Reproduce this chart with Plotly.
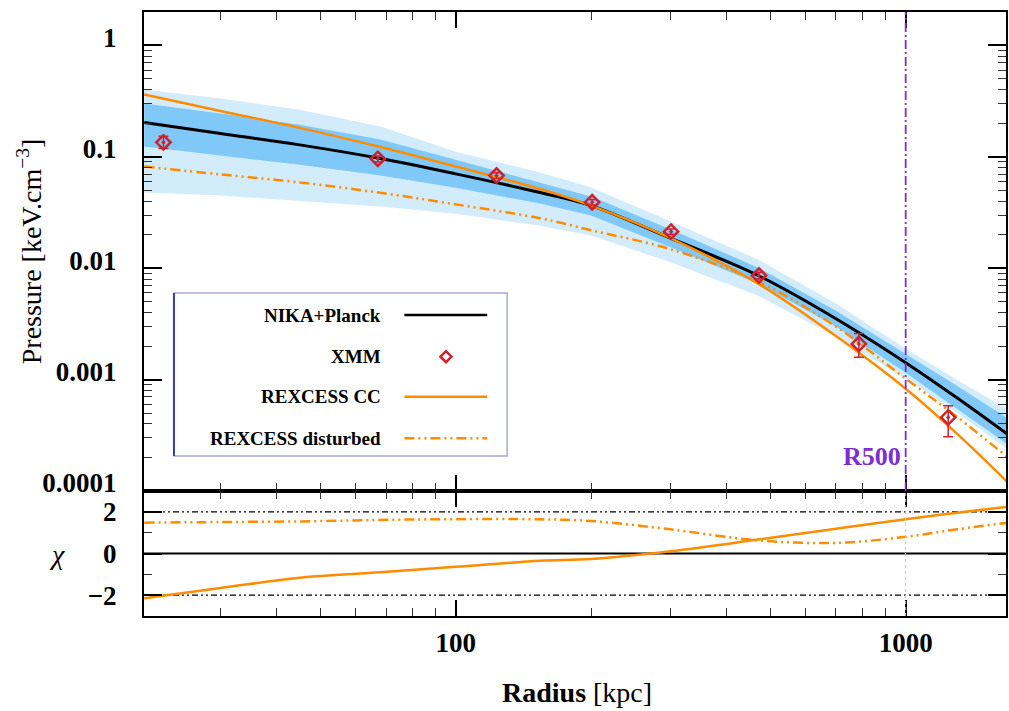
import math
import plotly.graph_objects as go
from plotly.subplots import make_subplots

# ---------------- data ----------------
r_model = [20.3, 30, 45, 68, 100, 154, 200, 300, 470, 700, 1000, 1300, 1690]
p_nika = [0.203, 0.162, 0.128, 0.0966, 0.0703, 0.0478, 0.0365, 0.0186, 0.0086, 0.00352, 0.00142, 0.000687, 0.00032]
p_1sig_hi = [0.301, 0.245, 0.194, 0.143, 0.0940, 0.0587, 0.0440, 0.0224, 0.01012, 0.00416, 0.00171, 0.000881, 0.000445]
p_1sig_lo = [0.1238, 0.1027, 0.0848, 0.0679, 0.0527, 0.0381, 0.0297, 0.01544, 0.00727, 0.00299, 0.001153, 0.000548, 0.000260]
p_2sig_hi = [0.4025, 0.334, 0.2645, 0.1872, 0.1109, 0.0723, 0.0530, 0.02644, 0.01195, 0.00481, 0.001895, 0.000998, 0.000537]
p_2sig_lo = [0.0478, 0.0449, 0.0402, 0.0358, 0.0308, 0.0241, 0.01963, 0.01132, 0.00567, 0.00243, 0.001019, 0.000504, 0.000235]
p_rexcess_cc = [0.3628, 0.2579, 0.1818, 0.1223, 0.0818, 0.0514, 0.0365, 0.01864, 0.00727, 0.00246, 0.000828, 0.000327, 0.0001185]
p_rexcess_dist = [0.0818, 0.0695, 0.0589, 0.0475, 0.0374, 0.0281, 0.0219, 0.01482, 0.00758, 0.00299, 0.001019, 0.000464, 0.000199]

chi_cc = [-2.15, -1.66, -1.16, -0.90, -0.64, -0.35, -0.26, 0.11, 0.67, 1.19, 1.64, 1.96, 2.25]
chi_dist = [1.48, 1.51, 1.54, 1.61, 1.65, 1.64, 1.56, 1.16, 0.63, 0.51, 0.80, 1.16, 1.48]

r_xmm = [22.4, 67.1, 123.2, 201, 301, 472, 787, 1243]
p_xmm = [0.135, 0.0959, 0.0679, 0.0391, 0.0213, 0.0086, 0.00209, 0.000458]
err_xmm_up = [0.018, 0.006, 0.004, 0.0022, 0.0012, 0.0006, 0.0005, 0.000125]
err_xmm_dn = [0.016, 0.006, 0.004, 0.0022, 0.0012, 0.0006, 0.0005, 0.000151]

R500 = 1000

y_tickvals = [1e-4, 1e-3, 1e-2, 1e-1, 1]
y_ticktext = ["0.0001", "0.001", "0.01", "0.1", "1"]
x_tickvals = [100, 1000]
x_ticktext = ["100", "1000"]
x_minor = [20, 30, 40, 50, 60, 70, 80, 90, 200, 300, 400, 500, 600, 700, 800, 900]
y_minor = [m * 10.0 ** e for e in range(-4, 0) for m in range(2, 10)]
chi_tickvals = [-2, 0, 2]
chi_ticktext = ["\u22122", "0", "2"]

legend_labels = ["NIKA+Planck", "XMM", "REXCESS CC", "REXCESS disturbed"]

# ---------------- styles ----------------
C_LIGHT = "#d3ecfc"
C_DARK = "#80c8f8"
C_ORANGE = "#ff8c00"
C_RED = "#d0202c"
C_PURPLE = "#7a2fd2"
SERIF = "Liberation Serif, Times New Roman, serif"
DASH_DDOT = "10px,4px,2px,4px,2px,4px"


def bold(lst):
    return ["<b>%s</b>" % t for t in lst]


fig = make_subplots(rows=2, cols=1, shared_xaxes=True, vertical_spacing=0,
                    row_heights=[479 / 604, 125 / 604])

# bands
fig.add_trace(go.Scatter(x=r_model, y=p_2sig_hi, mode="lines", line=dict(width=0, color=C_LIGHT),
                         showlegend=False, hoverinfo="skip"), row=1, col=1)
fig.add_trace(go.Scatter(x=r_model, y=p_2sig_lo, mode="lines", line=dict(width=0, color=C_LIGHT),
                         fill="tonexty", fillcolor=C_LIGHT, showlegend=False, hoverinfo="skip"), row=1, col=1)
fig.add_trace(go.Scatter(x=r_model, y=p_1sig_hi, mode="lines", line=dict(width=0, color=C_DARK),
                         showlegend=False, hoverinfo="skip"), row=1, col=1)
fig.add_trace(go.Scatter(x=r_model, y=p_1sig_lo, mode="lines", line=dict(width=0, color=C_DARK),
                         fill="tonexty", fillcolor=C_DARK, showlegend=False, hoverinfo="skip"), row=1, col=1)

fig.add_trace(go.Scatter(x=r_model, y=p_nika, mode="lines", line=dict(color="black", width=3, shape="spline"),
                         name=legend_labels[0], showlegend=False), row=1, col=1)
fig.add_trace(go.Scatter(x=r_model, y=p_rexcess_cc, mode="lines", line=dict(color=C_ORANGE, width=2.5, shape="spline"),
                         name=legend_labels[2], showlegend=False), row=1, col=1)
fig.add_trace(go.Scatter(x=r_model, y=p_rexcess_dist, mode="lines",
                         line=dict(color=C_ORANGE, width=2.5, dash=DASH_DDOT, shape="spline"),
                         name=legend_labels[3], showlegend=False), row=1, col=1)
fig.add_trace(go.Scatter(x=r_xmm, y=p_xmm, mode="markers",
                         marker=dict(symbol="diamond-open-dot", size=11, color=C_RED, line=dict(width=2.5, color=C_RED)),
                         error_y=dict(type="data", array=err_xmm_up, arrayminus=err_xmm_dn, color=C_RED,
                                      thickness=1.5, width=5),
                         name=legend_labels[1], showlegend=False), row=1, col=1)

# residuals
fig.add_trace(go.Scatter(x=r_model, y=chi_cc, mode="lines", line=dict(color=C_ORANGE, width=2.5, shape="spline"),
                         showlegend=False), row=2, col=1)
fig.add_trace(go.Scatter(x=r_model, y=chi_dist, mode="lines",
                         line=dict(color=C_ORANGE, width=2.5, dash=DASH_DDOT, shape="spline"),
                         showlegend=False), row=2, col=1)

# reference lines
fig.add_shape(type="line", xref="x", yref="y domain", x0=R500, x1=R500, y0=0, y1=1,
              line=dict(color=C_PURPLE, width=1.8, dash="9px,3px,2px,3px"))
fig.add_shape(type="line", xref="x2", yref="y2 domain", x0=R500, x1=R500, y0=0, y1=1,
              line=dict(color="#c8c8c8", width=1, dash="dot"))
for yv in (2, -2):
    fig.add_shape(type="line", xref="x2 domain", yref="y2", x0=0, x1=1, y0=yv, y1=yv,
                  line=dict(color="black", width=1.2, dash="2px,3px,2px,3px,6px,3px"), layer="below")
fig.add_shape(type="line", xref="x2 domain", yref="y2", x0=0, x1=1, y0=0, y1=0,
              line=dict(color="black", width=2), layer="below")

fig.add_annotation(text="<b>R500</b>", xref="x", x=math.log10(R500), xanchor="right", xshift=-3,
                   yref="paper", y=(616 - 457) / 604, yanchor="middle", showarrow=False,
                   font=dict(family=SERIF, size=26, color=C_PURPLE))

# ---------------- manual legend (paper coords) ----------------
def px(xp):
    return (xp - 144) / 864


def py(yp):
    return (616 - yp) / 604


fig.add_shape(type="rect", xref="paper", yref="paper", x0=px(174), x1=px(508), y0=py(456), y1=py(293),
              line=dict(color="#a8a8e0", width=1.5), fillcolor="white", layer="above")
fig.add_shape(type="line", xref="paper", yref="paper", x0=px(174), x1=px(174), y0=py(456), y1=py(293),
              line=dict(color="#3a3aa8", width=2))
rows_y = [315, 356.7, 396.7, 438.3]
for lab, yy in zip(legend_labels, rows_y):
    fig.add_annotation(text="<b>%s</b>" % lab, xref="paper", yref="paper", x=px(384), y=py(yy),
                       xanchor="right", yanchor="middle", showarrow=False,
                       font=dict(family=SERIF, size=19, color="black"))
fig.add_shape(type="line", xref="paper", yref="paper", x0=px(405), x1=px(488), y0=py(rows_y[0]), y1=py(rows_y[0]),
              line=dict(color="black", width=2.5))
fig.add_shape(type="line", xref="paper", yref="paper", x0=px(405), x1=px(488), y0=py(rows_y[2]), y1=py(rows_y[2]),
              line=dict(color=C_ORANGE, width=2.5))
fig.add_shape(type="line", xref="paper", yref="paper", x0=px(405), x1=px(488), y0=py(rows_y[3]), y1=py(rows_y[3]),
              line=dict(color=C_ORANGE, width=2.5, dash=DASH_DDOT))
mx, my, d = 446.7, rows_y[1], 5.5
fig.add_shape(type="path", xref="paper", yref="paper",
              path="M %f %f L %f %f L %f %f L %f %f Z" % (px(mx - d), py(my), px(mx), py(my - d),
                                                         px(mx + d), py(my), px(mx), py(my + d)),
              line=dict(color=C_RED, width=2.5))

# ---------------- axes ----------------
tickfont = dict(family=SERIF, size=27, color="black")
common_x = dict(type="log", range=[1.307, 3.223], showline=True, linewidth=2, linecolor="black",
                mirror="allticks", ticks="inside", ticklen=16, tickwidth=1.5, tickcolor="black",
                tickmode="array", tickvals=x_tickvals, ticktext=bold(x_ticktext), showgrid=False, zeroline=False,
                minor=dict(tickmode="array", tickvals=x_minor, ticks="inside", ticklen=8, tickwidth=1.2,
                           tickcolor="#333333", showgrid=False))
fig.update_xaxes(**common_x)
fig.update_xaxes(showticklabels=False, row=1, col=1)
fig.update_xaxes(showticklabels=True, tickfont=tickfont, ticklabelstandoff=2, row=2, col=1)

fig.update_yaxes(type="log", range=[-4, 0.3], showline=True, linewidth=2, linecolor="black",
                 mirror="allticks", ticks="inside", ticklen=18, tickwidth=1.5, tickcolor="black",
                 tickmode="array", tickvals=y_tickvals, ticktext=bold(y_ticktext), tickfont=tickfont,
                 showgrid=False, zeroline=False, ticklabelstandoff=20, ticklabelshift=-8,
                 minor=dict(tickmode="array", tickvals=y_minor, ticks="inside", ticklen=8, tickwidth=1.2,
                            tickcolor="#333333", showgrid=False),
                 row=1, col=1)
fig.update_yaxes(range=[-3, 3], showline=True, linewidth=2, linecolor="black",
                 mirror="allticks", ticks="inside", ticklen=18, tickwidth=1.5, tickcolor="black",
                 tickmode="array", tickvals=chi_tickvals, ticktext=bold(chi_ticktext), tickfont=tickfont,
                 showgrid=False, zeroline=False, ticklabelstandoff=20,
                 minor=dict(tickmode="array", tickvals=[-1, 1], ticks="inside", ticklen=8, tickwidth=1.2,
                            tickcolor="#333333", showgrid=False),
                 row=2, col=1)

# axis titles as annotations
fig.add_annotation(text="Pressure [keV.cm<sup>\u22123</sup>]", xref="paper", yref="paper",
                   x=px(30), y=py(251), textangle=-90, showarrow=False, xanchor="center", yanchor="middle",
                   font=dict(family=SERIF, size=28, color="black"))
fig.add_annotation(text="<i>\u03c7</i>", xref="paper", yref="paper", x=px(57), y=py(554), showarrow=False,
                   xanchor="center", yanchor="middle", font=dict(family=SERIF, size=28, color="black"))
fig.add_annotation(text="<b>Radius</b> [kpc]", xref="paper", yref="paper", x=px(578), y=py(692),
                   showarrow=False, xanchor="center", yanchor="middle",
                   font=dict(family=SERIF, size=28, color="black"))

fig.update_layout(width=1009, height=711, margin=dict(l=144, r=1, t=12, b=95),
                  font=dict(family=SERIF, color="black"),
                  plot_bgcolor="white", paper_bgcolor="white", showlegend=False)

fig.write_html("out.html")
